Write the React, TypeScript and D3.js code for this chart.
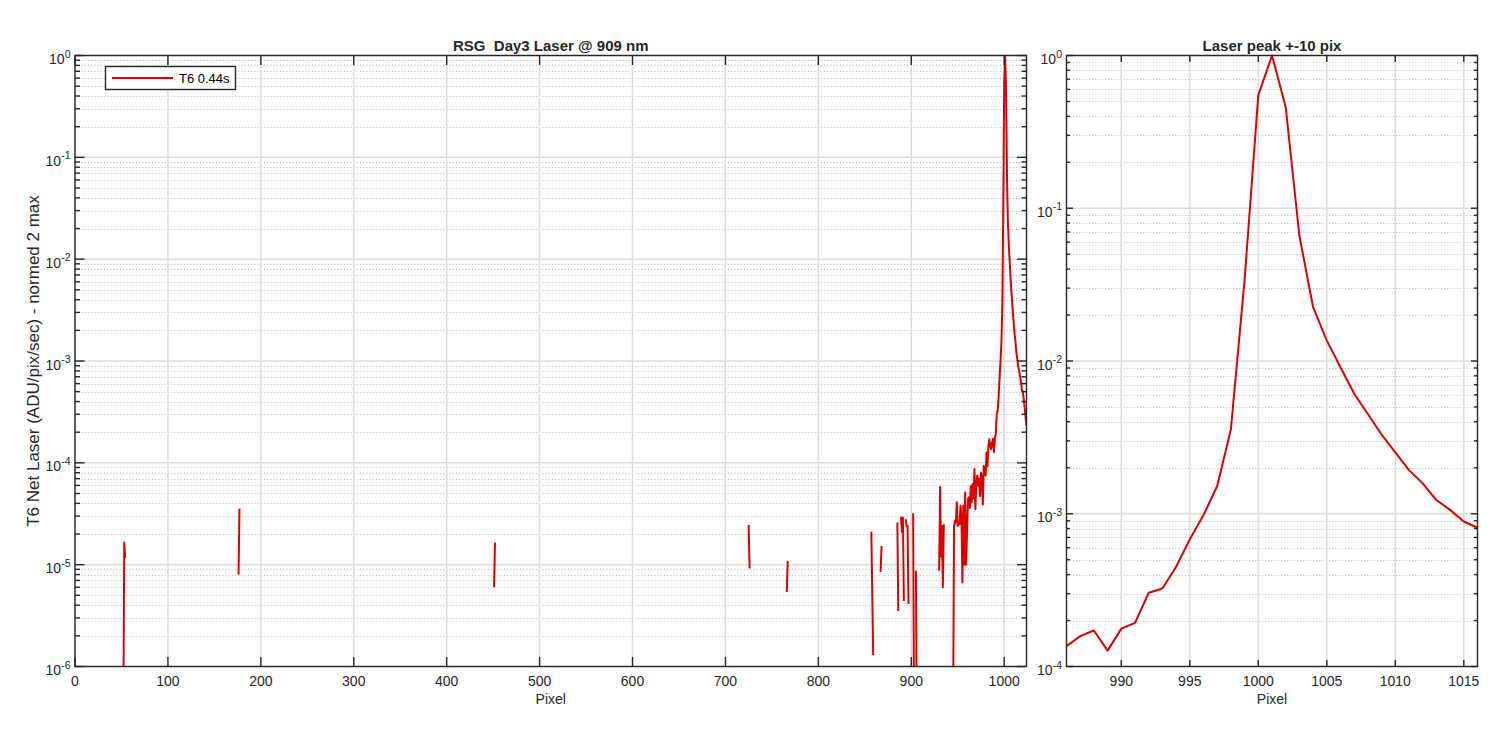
import React, { useEffect, useRef } from "react";
import * as d3 from "d3";

// laser peak, pixels 986..1016 (both panels)
const peakStart = 986;
const peakValues = [
  1.36e-4, 1.58e-4, 1.72e-4, 1.27e-4, 1.77e-4, 1.93e-4, 3.04e-4, 3.24e-4, 4.5e-4, 6.8e-4,
  9.8e-4, 1.52e-3, 3.58e-3, 0.034, 0.55, 1.0, 0.46, 0.066, 0.0225, 0.0136,
  0.0091, 0.0061, 0.0045, 0.0033, 0.00252, 0.00193, 0.00158, 0.00123, 0.00106, 0.00089,
  0.00081,
];

// right tail of the full spectrum, pixels 1017..1024
const tailStart = 1017;
const tailValues = [7.2e-4, 6.2e-4, 5.2e-4, 5.0e-4, 4.3e-4, 3.5e-4, 2.8e-4, 2.3e-4];

// scattered positive samples elsewhere (null = negative, not drawn on log axis)
const noiseStarts = [52, 176, 451, 725, 766, 857, 867, 885, 930];
const noiseValues: (number | null)[][] = [
  [3e-7, 1.65e-5, 1.17e-5],
  [8.0e-6, 3.56e-5],
  [6.0e-6, 1.65e-5],
  [2.45e-5, 9.2e-6],
  [5.4e-6, 1.09e-5],
  [2.1e-5, 5.2e-6, 1.3e-6],
  [8.5e-6, 1.53e-5],
  [2.6e-5, 3.5e-6, null, 2.9e-5, 2.9e-5, 2.1e-5, 2.9e-5, 4.4e-6, null, 2.8e-5,
    2.4e-5, 2.4e-5, 4.1e-6, null, null, null, null, 3.2e-5, 3e-7, null,
    8.7e-6, 2e-7],
  [8.7e-6, 5.8e-5, 1.2e-5, 2.4e-5, 6e-6, 2.5e-5, null, null, null, null,
    null, null, null, null, null, 3e-7, 2.35e-5, 2.7e-5, 2.6e-5, 4.1e-5,
    2.4e-5, 2.6e-5, 2.5e-5, 3.8e-5, 3.0e-5, 6.7e-6, 3.8e-5, 1.0e-5, 5.1e-5, 1.0e-5,
    2.0e-5, 4.4e-5, 4.6e-5, 3.6e-5, 5.9e-5, 4.1e-5, 6.2e-5, 4.5e-5, 8.7e-5, 3.5e-5,
    6.2e-5, 7.5e-5, 6.0e-5, 7.0e-5, 4.7e-5, 8.0e-5, 7.0e-5, 3.9e-5, 9.3e-5, 9.0e-5,
    7.5e-5, 1.26e-4, 9.3e-5, 1.45e-4, 1.7e-4, 1.45e-4],
];

const leftXTicks = [0, 100, 200, 300, 400, 500, 600, 700, 800, 900, 1000];
const rightXTicks = [990, 995, 1000, 1005, 1010, 1015];
const leftDecades = [0, -1, -2, -3, -4, -5, -6];
const rightDecades = [0, -1, -2, -3, -4];

const leftTitle = "RSG  Day3 Laser @ 909 nm";
const rightTitle = "Laser peak +-10 pix";
const yLabel = "T6 Net Laser (ADU/pix/sec) - normed 2 max";
const xLabel = "Pixel";
const legendLabel = "T6 0.44s";

const AX = "#262626";
const RED = "#e00000";
const FONT = "'Liberation Sans', Arial, Helvetica, sans-serif";

type Pt = [number, number | null];

function drawPanel(svg: any, o: any) {
  const x = d3.scaleLinear().domain(o.xDomain).range([o.x0, o.x1]);
  const lo = d3.min(o.decades as number[])!;
  const y = d3.scaleLog().domain([Math.pow(10, lo), 1]).range([o.y1, o.y0]);
  const g = svg.append("g");

  // minor y grid (dotted)
  const minors: number[] = [];
  for (let k = lo; k < 0; k++) for (let m = 2; m <= 9; m++) minors.push(m * Math.pow(10, k));
  g.selectAll(null).data(minors).enter().append("line")
    .attr("x1", o.x0).attr("x2", o.x1)
    .attr("y1", (d: number) => Math.round(y(d)) + 0.5).attr("y2", (d: number) => Math.round(y(d)) + 0.5)
    .attr("stroke", "#c4c4c4").attr("stroke-width", 1).attr("stroke-dasharray", "1.2,2");

  // major grid
  g.selectAll(null).data(o.decades).enter().append("line")
    .attr("x1", o.x0).attr("x2", o.x1)
    .attr("y1", (d: number) => y(Math.pow(10, d))).attr("y2", (d: number) => y(Math.pow(10, d)))
    .attr("stroke", "#dcdcdc").attr("stroke-width", 1.5);
  g.selectAll(null).data(o.xTicks).enter().append("line")
    .attr("y1", o.y0).attr("y2", o.y1)
    .attr("x1", (d: number) => x(d)).attr("x2", (d: number) => x(d))
    .attr("stroke", "#dcdcdc").attr("stroke-width", 1.5);

  // data line
  svg.append("clipPath").attr("id", o.clipId).append("rect")
    .attr("x", o.x0).attr("y", o.y0 - 1).attr("width", o.x1 - o.x0).attr("height", o.y1 - o.y0 + 1);
  const line = d3.line<Pt>()
    .defined((d) => d[1] != null && d[1] > 0)
    .x((d) => x(d[0]))
    .y((d) => y(d[1] as number));
  svg.append("path")
    .datum(o.data)
    .attr("clip-path", `url(#${o.clipId})`)
    .attr("d", line)
    .attr("fill", "none")
    .attr("stroke", RED)
    .attr("stroke-width", 2)
    .attr("stroke-linejoin", "round");

  // box
  const ax = svg.append("g").attr("stroke", AX).attr("stroke-width", 1.4);
  ax.append("rect").attr("x", o.x0).attr("y", o.y0)
    .attr("width", o.x1 - o.x0).attr("height", o.y1 - o.y0).attr("fill", "none");

  // x ticks top and bottom
  o.xTicks.forEach((t: number) => {
    ax.append("line").attr("x1", x(t)).attr("x2", x(t)).attr("y1", o.y1).attr("y2", o.y1 - o.tickLen);
    ax.append("line").attr("x1", x(t)).attr("x2", x(t)).attr("y1", o.y0).attr("y2", o.y0 + o.tickLen);
  });
  // y ticks left and right
  o.decades.forEach((d: number) => {
    const yy = y(Math.pow(10, d));
    ax.append("line").attr("x1", o.x0).attr("x2", o.x0 + o.tickLen).attr("y1", yy).attr("y2", yy);
    ax.append("line").attr("x1", o.x1).attr("x2", o.x1 - o.tickLen).attr("y1", yy).attr("y2", yy);
  });
  minors.forEach((m) => {
    const yy = y(m);
    ax.append("line").attr("x1", o.x0).attr("x2", o.x0 + o.minorLen).attr("y1", yy).attr("y2", yy);
    ax.append("line").attr("x1", o.x1).attr("x2", o.x1 - o.minorLen).attr("y1", yy).attr("y2", yy);
  });

  // tick labels
  const txt = svg.append("g").attr("font-family", FONT).attr("fill", AX).attr("font-size", 14);
  o.xTicks.forEach((t: number) => {
    txt.append("text").attr("x", x(t)).attr("y", o.y1 + 19)
      .attr("text-anchor", "middle").text(String(t));
  });
  o.decades.forEach((d: number) => {
    const t = txt.append("text").attr("x", o.x0 - 4.5).attr("y", y(Math.pow(10, d)) + 8.5)
      .attr("text-anchor", "end");
    t.append("tspan").text("10");
    t.append("tspan").attr("dy", -6.5).attr("font-size", 10.5).text(String(d));
  });

  // x label + title
  const cx = (o.x0 + o.x1) / 2;
  txt.append("text").attr("x", cx).attr("y", o.y1 + 37).attr("text-anchor", "middle").text(xLabel);
  txt.append("text").attr("x", cx).attr("y", o.y0 - 4.5).attr("text-anchor", "middle")
    .attr("font-size", 15).attr("font-weight", "bold").style("white-space", "pre").text(o.title);

  return { x, y };
}

export default function App() {
  const ref = useRef<SVGSVGElement | null>(null);

  useEffect(() => {
    document.body.style.margin = "0";
    const svg = d3.select(ref.current);
    svg.selectAll("*").remove();

    // full-spectrum samples indexed by pixel
    const full: (number | null)[] = new Array(1025).fill(null);
    noiseStarts.forEach((s, i) => noiseValues[i].forEach((v, j) => { full[s + j] = v; }));
    peakValues.forEach((v, j) => { full[peakStart + j] = v; });
    tailValues.forEach((v, j) => { full[tailStart + j] = v; });
    const leftData: Pt[] = full.map((v, p) => [p, v]);
    const rightData: Pt[] = peakValues.map((v, j) => [peakStart + j, v]);

    drawPanel(svg, {
      x0: 75, x1: 1026.5, y0: 55.5, y1: 666.5,
      xDomain: [0, 1024], xTicks: leftXTicks, decades: leftDecades,
      tickLen: 9.5, minorLen: 5, data: leftData, title: leftTitle, clipId: "clipL",
    });
    drawPanel(svg, {
      x0: 1066.5, x1: 1477.5, y0: 55.5, y1: 666.5,
      xDomain: [986, 1016], xTicks: rightXTicks, decades: rightDecades,
      tickLen: 6.5, minorLen: 3.5, data: rightData, title: rightTitle, clipId: "clipR",
    });

    // y axis label
    svg.append("text")
      .attr("transform", "translate(39,361) rotate(-90)")
      .attr("text-anchor", "middle")
      .attr("font-family", FONT).attr("font-size", 17).attr("fill", AX)
      .text(yLabel);

    // legend
    const lg = svg.append("g");
    lg.append("rect").attr("x", 105.5).attr("y", 66.5).attr("width", 130).attr("height", 23)
      .attr("fill", "white").attr("stroke", AX).attr("stroke-width", 1.4);
    lg.append("line").attr("x1", 112).attr("x2", 173).attr("y1", 78).attr("y2", 78)
      .attr("stroke", RED).attr("stroke-width", 2);
    lg.append("text").attr("x", 179).attr("y", 82.5)
      .attr("font-family", FONT).attr("font-size", 13).attr("fill", "#000")
      .text(legendLabel);
  }, []);

  return (
    <svg ref={ref} width={1500} height={750}
      style={{ position: "absolute", left: 0, top: 0, background: "white" }} />
  );
}
